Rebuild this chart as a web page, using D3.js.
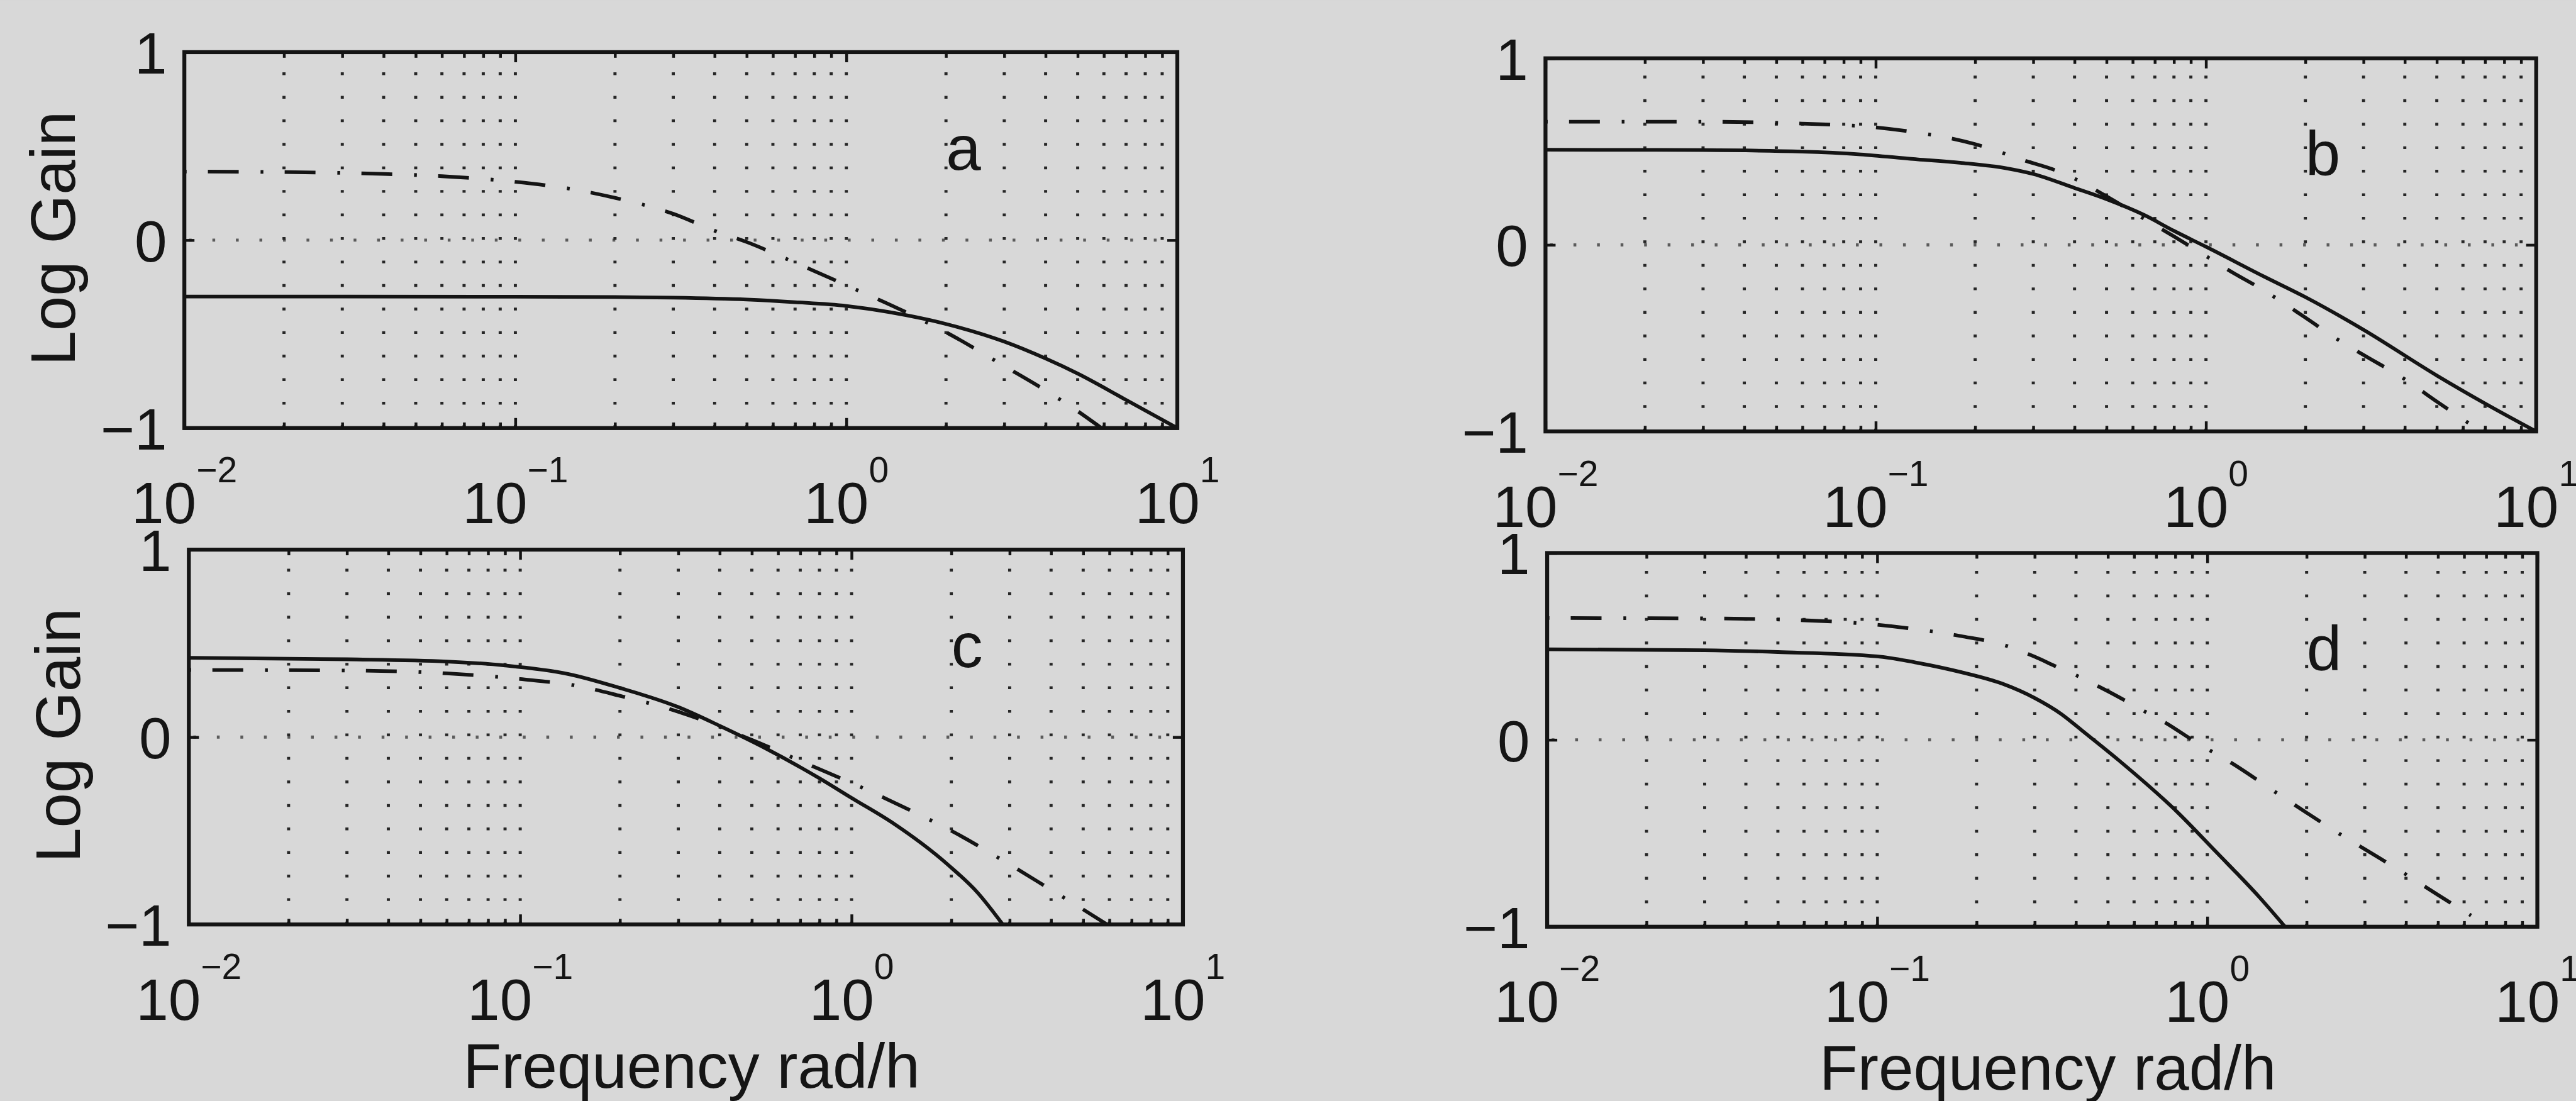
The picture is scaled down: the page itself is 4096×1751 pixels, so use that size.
<!DOCTYPE html>
<html>
<head>
<meta charset="utf-8">
<script src="https://cdn.jsdelivr.net/npm/d3@7"></script>
<style>
  html, body { margin: 0; padding: 0; background: #d8d8d8; overflow: hidden; }
  svg { display: block; }
  text { font-family: "Liberation Sans", Arial, Helvetica, sans-serif; fill: #151515; }
</style>
</head>
<body>
<svg id="fig"></svg>
<script>
// Frequency axis (rad/h): limits and decade exponents for the tick labels
const freqDomain = [0.01, 10];
const decadeExponents = [-2, -1, 0, 1];
// Log gain axis
const gainDomain = [-1, 1];
const gainTicks = [-1, 0, 1];
const gainTickLabels = ["\u22121", "0", "1"];
// Panel letters and where they sit (frequency, log gain)
const panelNames = ["a", "b", "c", "d"];
const panelNameAt = [2, 0.5];
const yAxisTitle = "Log Gain";
const xAxisTitle = "Frequency rad/h";

// Log gain curves as [frequency rad/h, log gain]
const solidA = [[0.01,-0.30],[0.03,-0.30],[0.1,-0.301],[0.2,-0.303],[0.3,-0.306],[0.5,-0.316],[0.7,-0.33],[1.0,-0.35],[1.34,-0.382],[2.0,-0.446],[3.0,-0.54],[4.0,-0.63],[5.0,-0.71],[7.0,-0.85],[10,-1.0]];
const dashDotA = [[0.01,0.365],[0.02,0.362],[0.04,0.352],[0.06,0.34],[0.1,0.31],[0.15,0.27],[0.2,0.225],[0.3,0.14],[0.4,0.05],[0.5,-0.01],[0.7,-0.12],[1.0,-0.24],[1.5,-0.38],[2.0,-0.49],[3.0,-0.67],[4.0,-0.80],[5.0,-0.91],[5.9,-1.0]];

const solidB = [[0.01,0.51],[0.03,0.508],[0.06,0.50],[0.09,0.485],[0.13,0.46],[0.18,0.44],[0.25,0.41],[0.3,0.38],[0.4,0.305],[0.5,0.245],[0.65,0.16],[0.8,0.075],[1.0,-0.01],[1.5,-0.17],[2.0,-0.28],[3.0,-0.455],[5.0,-0.70],[7.0,-0.85],[10,-1.0]];
const dashDotB = [[0.01,0.66],[0.03,0.66],[0.06,0.65],[0.1,0.63],[0.13,0.605],[0.17,0.57],[0.2,0.54],[0.285,0.45],[0.35,0.40],[0.4,0.355],[0.5,0.26],[0.65,0.14],[0.8,0.045],[1.0,-0.06],[1.17,-0.135],[1.5,-0.245],[2.0,-0.39],[2.5,-0.506],[3.0,-0.59],[4.0,-0.72],[5.0,-0.84],[6.3,-0.96]];

const solidC = [[0.01,0.423],[0.03,0.415],[0.06,0.403],[0.09,0.382],[0.14,0.336],[0.2,0.262],[0.3,0.16],[0.4,0.06],[0.55,-0.06],[0.8,-0.22],[1.0,-0.325],[1.33,-0.458],[1.95,-0.68],[2.4,-0.83],[2.86,-1.0]];
const dashDotC = [[0.01,0.358],[0.03,0.355],[0.06,0.34],[0.1,0.31],[0.15,0.272],[0.2,0.22],[0.3,0.135],[0.5,-0.015],[0.75,-0.15],[1.0,-0.245],[1.5,-0.39],[2.0,-0.50],[3.0,-0.68],[4.0,-0.815],[5.0,-0.92],[5.9,-1.0]];

const solidD = [[0.01,0.485],[0.03,0.48],[0.05,0.47],[0.1,0.447],[0.13,0.415],[0.18,0.362],[0.24,0.30],[0.3,0.224],[0.36,0.14],[0.42,0.046],[0.54,-0.11],[0.81,-0.385],[1.06,-0.597],[1.44,-0.843],[1.72,-1.0]];
const dashDotD = [[0.01,0.652],[0.03,0.65],[0.06,0.64],[0.1,0.616],[0.14,0.585],[0.18,0.555],[0.25,0.50],[0.3,0.445],[0.35,0.391],[0.4,0.346],[0.5,0.26],[0.65,0.15],[0.75,0.09],[0.9,0.0],[1.2,-0.13],[1.6,-0.277],[2.0,-0.39],[2.5,-0.50],[3.0,-0.585],[4.0,-0.72],[5.0,-0.83],[6.3,-0.94]];

const solidSeries = [solidA, solidB, solidC, solidD];
const dashDotSeries = [dashDotA, dashDotB, dashDotC, dashDotD];

// ---- page geometry (drawing units; the viewBox scales it to the window) ----
const W = 4597, H = 1965;
const panels = [
  { x0: 329,  x1: 2101, y0: 93,  y1: 764,  yTitle: true,  xTitle: false },
  { x0: 2758, x1: 4526, y0: 104, y1: 770,  yTitle: false, xTitle: false },
  { x0: 337,  x1: 2111, y0: 981, y1: 1650, yTitle: true,  xTitle: true  },
  { x0: 2761, x1: 4528, y0: 987, y1: 1654, yTitle: false, xTitle: true  }
];
const style = {
  ink: "#141414",
  grid: "#262626",
  boxWidth: 7,
  tickWidth: 5,
  lineWidth: 6.5,
  gridWidth: 5.5,
  gridDash: "5,37",
  dashDot: "55,39,5,38",
  dashDotOffset: 95,
  majorTick: 18,
  minorTick: 10,
  tickFont: 104,
  expFont: 64,
  expRise: 73,
  xTickBaseline: 170,
  yTickGap: 31,
  titleFont: 112,
  letterFont: 112
};

const svg = d3.select("#fig")
  .attr("width", 4096).attr("height", 1751)
  .attr("viewBox", `0 0 ${W} ${H}`);

svg.append("rect").attr("width", W).attr("height", H).attr("fill", "#d8d8d8");

// tick positions on the log axis
const majorFreqs = decadeExponents.map(e => Math.pow(10, e));
const minorFreqs = [];
decadeExponents.slice(0, -1).forEach(e => {
  d3.range(2, 10).forEach(k => minorFreqs.push(k * Math.pow(10, e)));
});
const innerGridFreqs = majorFreqs.slice(1, -1).concat(minorFreqs);

const defs = svg.append("defs");

panels.forEach((p, i) => {
  const x = d3.scaleLog().domain(freqDomain).range([p.x0, p.x1]);
  const y = d3.scaleLinear().domain(gainDomain).range([p.y1, p.y0]);
  const g = svg.append("g").attr("class", "panel-" + panelNames[i]);

  defs.append("clipPath").attr("id", "clip" + i)
    .append("rect").attr("x", p.x0).attr("y", p.y0)
    .attr("width", p.x1 - p.x0).attr("height", p.y1 - p.y0);

  // dotted grid
  const grid = g.append("g").attr("stroke", style.grid).attr("stroke-width", style.gridWidth)
    .attr("stroke-dasharray", style.gridDash).attr("fill", "none");
  grid.selectAll("line.v").data(innerGridFreqs).join("line")
    .attr("class", "v")
    .attr("x1", d => x(d)).attr("x2", d => x(d))
    .attr("y1", y(-1)).attr("y2", y(1));
  grid.selectAll("line.h").data(gainTicks.filter(t => t > gainDomain[0] && t < gainDomain[1])).join("line")
    .attr("class", "h")
    .attr("x1", x(freqDomain[0]) + 8).attr("x2", x(freqDomain[1]))
    .attr("y1", d => y(d)).attr("y2", d => y(d))
    .attr("stroke-opacity", 0.7);

  // curves
  const line = d3.line().x(d => x(d[0])).y(d => y(d[1])).curve(d3.curveMonotoneX);
  const curves = g.append("g").attr("clip-path", `url(#clip${i})`).attr("fill", "none")
    .attr("stroke", style.ink).attr("stroke-width", style.lineWidth)
    .attr("stroke-linejoin", "round");
  curves.append("path").datum(solidSeries[i]).attr("d", line);
  curves.append("path").datum(dashDotSeries[i]).attr("d", line)
    .attr("stroke-dasharray", style.dashDot)
    .attr("stroke-dashoffset", style.dashDotOffset);

  // inward ticks on all four sides
  const tickStyle = sel => {
    sel.select(".domain").remove();
    sel.selectAll("line").attr("stroke", style.ink).attr("stroke-width", style.tickWidth);
    sel.selectAll("text").remove();
  };
  [[d3.axisBottom, p.y1], [d3.axisTop, p.y0]].forEach(([axisFn, ty]) => {
    g.append("g").attr("transform", `translate(0,${ty})`)
      .call(axisFn(x).tickValues(majorFreqs).tickSize(-style.majorTick).tickFormat(""))
      .call(tickStyle);
    g.append("g").attr("transform", `translate(0,${ty})`)
      .call(axisFn(x).tickValues(minorFreqs).tickSize(-style.minorTick).tickFormat(""))
      .call(tickStyle);
  });
  [[d3.axisLeft, p.x0], [d3.axisRight, p.x1]].forEach(([axisFn, tx]) => {
    g.append("g").attr("transform", `translate(${tx},0)`)
      .call(axisFn(y).tickValues(gainTicks).tickSize(-style.majorTick).tickFormat(""))
      .call(tickStyle);
  });

  // box
  g.append("rect").attr("x", p.x0).attr("y", p.y0)
    .attr("width", p.x1 - p.x0).attr("height", p.y1 - p.y0)
    .attr("fill", "none").attr("stroke", style.ink).attr("stroke-width", style.boxWidth);

  // y tick labels
  g.selectAll("text.ytl").data(gainTicks).join("text")
    .attr("class", "ytl")
    .attr("x", p.x0 - style.yTickGap)
    .attr("y", d => y(d) + 38)
    .attr("text-anchor", "end")
    .attr("font-size", style.tickFont)
    .text((d, j) => gainTickLabels[j]);

  // x tick labels: 10 with a raised exponent
  const xtl = g.selectAll("text.xtl").data(decadeExponents).join("text")
    .attr("class", "xtl")
    .attr("x", d => x(Math.pow(10, d)))
    .attr("y", p.y1 + style.xTickBaseline)
    .attr("text-anchor", "middle")
    .attr("font-size", style.tickFont);
  xtl.append("tspan").text("10");
  xtl.append("tspan")
    .attr("dy", -style.expRise)
    .attr("font-size", style.expFont)
    .text(d => (d < 0 ? "\u2212" : "") + Math.abs(d));

  // panel letter
  g.append("text")
    .attr("x", x(panelNameAt[0]))
    .attr("y", y(panelNameAt[1]))
    .attr("dy", "0.38em")
    .attr("font-size", style.letterFont)
    .text(panelNames[i]);

  if (p.yTitle) {
    const cx = p.x0 - 195, cy = (p.y0 + p.y1) / 2 - 3;
    g.append("text")
      .attr("transform", `translate(${cx},${cy}) rotate(-90)`)
      .attr("text-anchor", "middle")
      .attr("font-size", style.titleFont)
      .text(yAxisTitle);
  }
  if (p.xTitle) {
    g.append("text")
      .attr("x", (p.x0 + p.x1) / 2 + 10)
      .attr("y", p.y1 + 291)
      .attr("text-anchor", "middle")
      .attr("font-size", style.titleFont)
      .text(xAxisTitle);
  }
});
</script>
</body>
</html>
